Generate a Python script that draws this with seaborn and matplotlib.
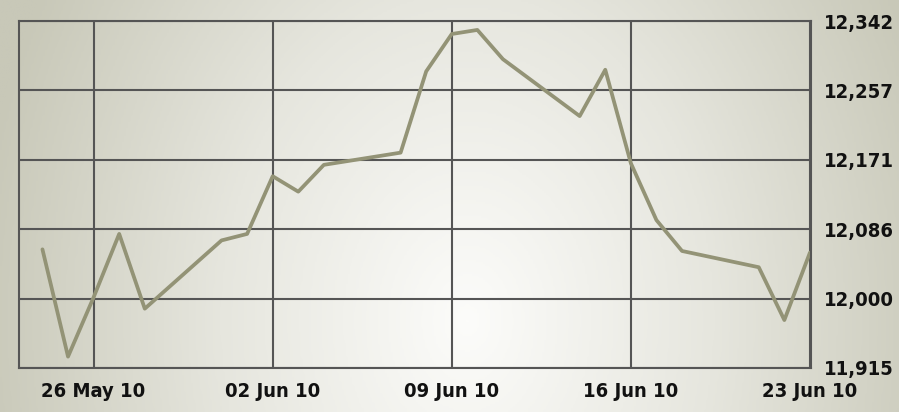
import numpy as np
import pandas as pd
import seaborn as sns
import matplotlib.pyplot as plt
from matplotlib.colors import LinearSegmentedColormap
from matplotlib import font_manager as fm

dates = ["2010-05-24", "2010-05-25", "2010-05-26", "2010-05-27", "2010-05-28",
         "2010-05-31", "2010-06-01", "2010-06-02", "2010-06-03", "2010-06-04",
         "2010-06-07", "2010-06-08", "2010-06-09", "2010-06-10", "2010-06-11",
         "2010-06-14", "2010-06-15", "2010-06-16", "2010-06-17", "2010-06-18",
         "2010-06-21", "2010-06-22", "2010-06-23"]
values = [12061, 11929, 12002, 12080, 11988,
          12072, 12080, 12151, 12132, 12165,
          12180, 12280, 12326, 12331, 12295,
          12225, 12282, 12167, 12097, 12059,
          12039, 11974, 12057]
x_ticks = ["2010-05-26", "2010-06-02", "2010-06-09", "2010-06-16", "2010-06-23"]
x_labels = ["26 May 10", "02 Jun 10", "09 Jun 10", "16 Jun 10", "23 Jun 10"]
y_labels = ["11,915", "12,000", "12,086", "12,171", "12,257", "12,342"]

df = pd.DataFrame({"date": pd.to_datetime(dates), "value": values})

sns.set_theme(style="white")
names = {f.name for f in fm.fontManager.ttflist}
fam = "Liberation Sans Narrow" if "Liberation Sans Narrow" in names else "DejaVu Sans"
plt.rcParams['font.family'] = [fam, 'DejaVu Sans']
plt.rcParams['font.stretch'] = 'condensed'

fig = plt.figure(figsize=(8.99, 4.12), dpi=100)

# background: soft radial-ish gradient, light near the lower centre
bg = fig.add_axes([0, 0, 1, 1], zorder=0)
gx, gy = np.meshgrid(np.linspace(0, 1, 400), np.linspace(0, 1, 200))
d = np.sqrt(((gx - 0.52) / 0.55) ** 2 + ((gy - 0.78) / 1.6) ** 2)
cmap = LinearSegmentedColormap.from_list("bg", ["#fcfcfa", "#e6e6de", "#c8c8b8"])
bg.imshow(np.clip(d, 0, 1), cmap=cmap, aspect="auto", extent=[0, 1, 0, 1], vmin=0, vmax=1)
bg.axis("off")

ax = fig.add_axes([19 / 899, 44 / 412, 792 / 899, 347 / 412], zorder=1)
ax.patch.set_alpha(0)

sns.lineplot(data=df, x="date", y="value", ax=ax, color="#939376", linewidth=2.7)

ymin, ymax = 11915, 12342
ax.set_ylim(ymin, ymax)
ax.set_yticks(np.linspace(ymin, ymax, len(y_labels)))
ax.set_yticklabels(y_labels)
ax.yaxis.tick_right()

xt = pd.to_datetime(x_ticks)
ax.set_xlim(xt[0] - pd.Timedelta(hours=70), xt[-1] + pd.Timedelta(hours=1))
ax.set_xticks(xt)
ax.set_xticklabels(x_labels)

ax.grid(True, color="#555555", linewidth=1.5)
for s in ax.spines.values():
    s.set_visible(True)
    s.set_color("#555555")
    s.set_linewidth(1.5)

ax.tick_params(axis="both", length=0, labelsize=14.5, colors="#111111")
ax.tick_params(axis="y", pad=9)
ax.tick_params(axis="x", pad=10)
for lab in ax.get_xticklabels() + ax.get_yticklabels():
    lab.set_fontweight("bold")
    lab.set_fontstretch("condensed")
ax.set_xlabel("")
ax.set_ylabel("")

fig.savefig("out.png", dpi=100)
